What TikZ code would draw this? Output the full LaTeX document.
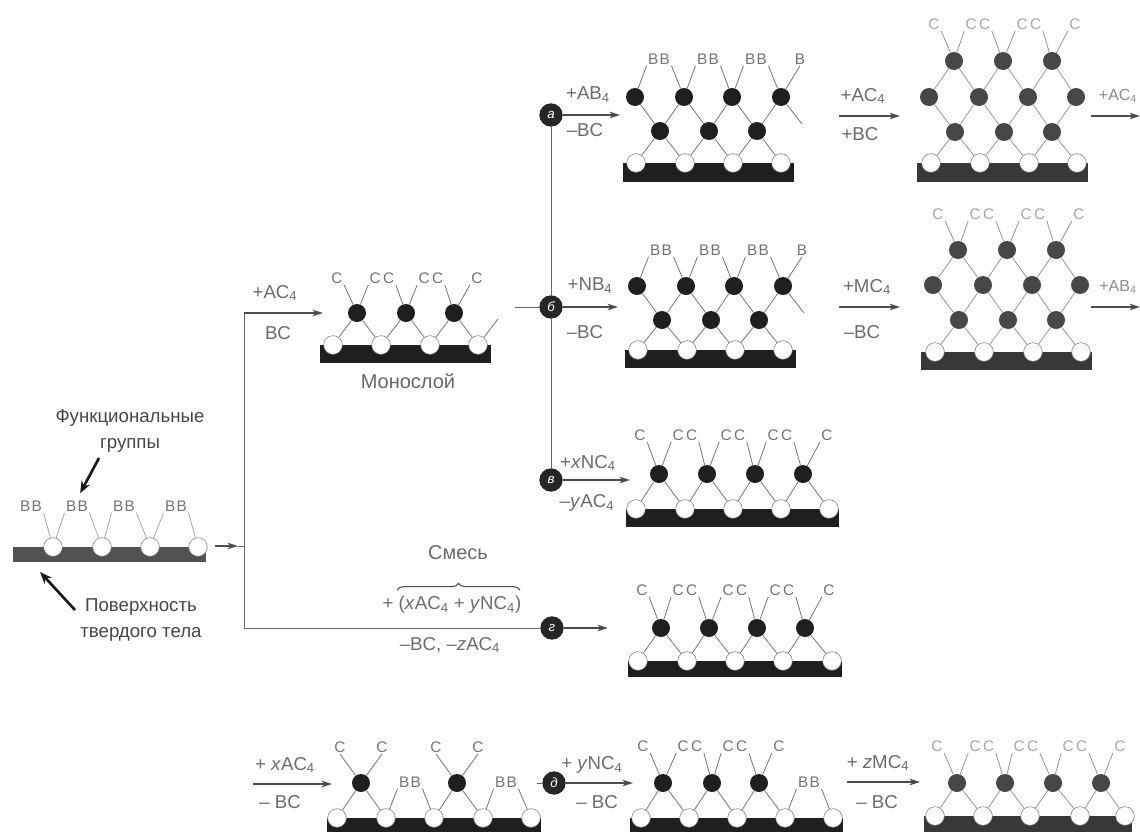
\documentclass[tikz,border=0pt]{standalone}
\usepackage{fontspec}
\setmainfont{Liberation Sans}
\usetikzlibrary{arrows.meta,decorations.pathreplacing}
\newcommand{\cc}{C\kern1.8pt C}
\newcommand{\bb}{B\kern1pt B}
\newcommand{\substrate}[6]{%
    \fill[barfill] (#2,#4) rectangle (#3,#5);
    \foreach \x [count=\i] in {#6} \node[hole] (#1w\i) at (\x,#4) {};
}
\newcommand{\atoms}[4]{\foreach \x [count=\i] in {#4} \node[#1] (#2\i) at (\x,#3) {};}
\newcommand{\caps}[3]{\foreach \x/\lab [count=\i] in {#3} \node[toplabel] (#1\i) at (\x,#2) {\lab};}
\newcommand{\zigzag}[3]{%
    \foreach \i in {1,...,#3} {
        \pgfmathtruncatemacro\j{\i+1}
        \draw[bond] (#1\i) -- (#2\i) (#1\i) -- (#2\j);
    }
}
\newcommand{\capbonds}[3]{%
    \foreach \i in {1,...,#3} {
        \pgfmathtruncatemacro\j{\i+1}
        \draw[bond] (#1\i) -- (#2\i.south east) (#1\i) -- (#2\j.south west);
    }
}
\newcommand{\hangbonds}[3]{%
    \foreach \i in {1,...,#3} {
        \pgfmathtruncatemacro\j{\i+1}
        \draw[bond] (#2\i.south west) -- (#1\i) (#2\i.south east) -- (#1\j);
    }
}
\begin{document}
\begin{tikzpicture}[
        x=0.75pt, y=-0.75pt,
        barfill/.style={fill=black!88},
        hole/.style={circle, draw=black!55, line width=0.4pt, fill=white, minimum size=14pt, inner sep=0pt},
        atom/.style={circle, fill=black!88, minimum size=13.5pt, inner sep=0pt},
        paleatom/.style={circle, fill=black!72, minimum size=13.5pt, inner sep=0pt},
        toplabel/.style={font=\fontsize{11.5}{12}\selectfont, text=black!55, inner sep=1pt},
        bond/.style={black!55, line width=0.6pt},
        faintbond/.style={black!35, line width=0.6pt},
        palepanel/.style={toplabel/.append style={text=black!35}, bond/.append style={black!42}, barfill/.append style={fill=black!78}},
        stage/.style={circle, fill=black!85, text=white, font=\fontsize{10}{10}\selectfont\itshape, minimum size=17.5pt, inner sep=0pt},
        chem/.style={font=\fontsize{14}{15}\selectfont, text=black!58, inner sep=0pt},
        note/.style={font=\fontsize{14}{20}\selectfont, text=black!72, align=center, inner sep=0pt},
        line/.style={black!60, line width=0.7pt},
        flow/.style={black!70, line width=0.8pt, -{Stealth[length=8pt,width=5pt]}},
        pointer/.style={black!90, line width=2pt, -{Stealth[length=9pt,width=7pt]}}
    ]
    \useasboundingbox (0,0) rectangle (1140,832);

    \node[stage] (sa) at (551,115) {а};
    \node[stage] (sb) at (551,307) {б};
    \node[stage] (sv) at (551,480) {в};
    \node[stage] (sg) at (552,628) {г};
    \node[stage] (sd) at (554,783) {д};

    \begin{scope}[barfill/.append style={fill=black!68}]
    \substrate{l}{13}{206}{547}{562}{53,102,150,198}
    \end{scope}
    \caps{ll}{506}{31/\bb,77/\bb,124/\bb,176/\bb}
    \foreach \i/\j in {1/2,2/3,3/4} {
        \draw[faintbond] (lw\i) -- (ll\j.south west);
    }
    \foreach \i in {1,2,3,4} {
        \draw[faintbond] (ll\i.south east) -- (lw\i);
    }
    \node[note] (func) at (130,431) {Функциональные\\группы};
    \node[note] (solid) at (141,620) {Поверхность\\твердого тела};
    \coordinate (fn0) at (99,458);
    \coordinate (sf0) at (75,610);
    \coordinate (sf1) at (40,572);
    \draw[pointer, shorten >=5pt] (fn0) -- (ll2.north);
    \draw[pointer] (sf0) -- (sf1);

    \coordinate (st0) at (215,546);
    \coordinate (st1) at (238,546);
    \coordinate (jn) at (244,546);
    \coordinate (up) at (244,313);
    \coordinate (lo) at (244,628);
    \coordinate (mono0) at (323,313);
    \draw[flow] (st0) -- (st1);
    \draw[line] (st1) -- (jn);
    \draw[line] (lo) -- (up);
    \draw[flow] (up) -- (mono0);
    \draw[line] (lo) -- (sg);
    \node[chem] (t1) at (275,293) {+AC\textsubscript{4}};
    \node[chem] (t2) at (278,333) {BC};

    \substrate{m}{320}{491}{345}{363}{333,381,430,478}
    \atoms{atom}{md}{313}{357,406,454}
    \caps{ml}{278}{337/C,382/\cc,431/\cc,477/C}
    \zigzag{md}{mw}{3}
    \capbonds{md}{ml}{3}
    \coordinate (mfree) at (498,319);
    \draw[bond] (mw4) -- (mfree);
    \node[font=\fontsize{15}{15}\selectfont, text=black!60] (monolayer) at (408,381) {Монослой};

    \coordinate (mb0) at (515,307);
    \draw[line] (mb0) -- (sb);
    \draw[line] (sa) -- (sb) -- (sv);

    \coordinate (ae) at (620,115);
    \draw[flow] (sa) -- (ae);
    \node[chem] (t3) at (588,95) {+AB\textsubscript{4}};
    \node[chem] (t4) at (585,130) {–BC};
    \substrate{a}{623}{794}{163}{182}{636,685,733,781}
    \atoms{atom}{al}{131}{660,709,757}
    \atoms{atom}{au}{97}{635,684,732,781}
    \caps{at}{59}{659/\bb,708/\bb,756/\bb,800/B}
    \zigzag{al}{aw}{3}
    \zigzag{al}{au}{3}
    \hangbonds{au}{at}{3}
    \coordinate (afree) at (802,124);
    \draw[bond] (au4) -- (at4.south) (au4) -- (afree);

    \coordinate (a2s) at (839,116);
    \coordinate (a2e) at (900,116);
    \draw[flow] (a2s) -- (a2e);
    \node[chem] (t5) at (863,96) {+AC\textsubscript{4}};
    \node[chem] (t6) at (860,134) {+BC};
    \begin{scope}[palepanel]
    \substrate{c}{917}{1088}{163}{182}{931,980,1029,1077}
    \atoms{paleatom}{cl}{132}{955,1004,1052}
    \atoms{paleatom}{cm}{97}{929,979,1028,1076}
    \atoms{paleatom}{cu}{61}{954,1003,1052}
    \caps{ct}{24}{934/C,978/\cc,1029/\cc,1075/C}
    \zigzag{cl}{cw}{3}
    \zigzag{cl}{cm}{3}
    \zigzag{cu}{cm}{3}
    \capbonds{cu}{ct}{3}
    \end{scope}
    \coordinate (c2s) at (1091,116);
    \coordinate (c2e) at (1140,116);
    \draw[flow] (c2s) -- (c2e);
    \node[chem, text=black!45, font=\fontsize{12}{13}\selectfont] (t7) at (1118,96) {+AC\textsubscript{4}};

    \coordinate (be) at (618,307);
    \draw[flow] (sb) -- (be);
    \node[chem] (t8) at (590,286) {+NB\textsubscript{4}};
    \node[chem] (t9) at (585,332) {–BC};
    \substrate{b}{625}{796}{350}{368}{638,687,735,783}
    \atoms{atom}{bl}{320}{662,711,759}
    \atoms{atom}{bu}{286}{637,686,734,783}
    \caps{bt}{250}{661/\bb,710/\bb,758/\bb,802/B}
    \zigzag{bl}{bw}{3}
    \zigzag{bl}{bu}{3}
    \hangbonds{bu}{bt}{3}
    \coordinate (bfree) at (804,313);
    \draw[bond] (bu4) -- (bt4.south) (bu4) -- (bfree);

    \coordinate (b2s) at (839,307);
    \coordinate (b2e) at (900,307);
    \draw[flow] (b2s) -- (b2e);
    \node[chem] (t10) at (867,287) {+MC\textsubscript{4}};
    \node[chem] (t11) at (862,332) {–BC};
    \begin{scope}[palepanel]
    \substrate{e}{921}{1092}{352}{370}{935,984,1033,1081}
    \atoms{paleatom}{el}{320}{959,1008,1056}
    \atoms{paleatom}{em}{285}{933,983,1032,1080}
    \atoms{paleatom}{eu}{250}{958,1007,1056}
    \caps{et}{214}{938/C,982/\cc,1033/\cc,1079/C}
    \zigzag{el}{ew}{3}
    \zigzag{el}{em}{3}
    \zigzag{eu}{em}{3}
    \capbonds{eu}{et}{3}
    \end{scope}
    \coordinate (e2s) at (1091,307);
    \coordinate (e2e) at (1140,307);
    \draw[flow] (e2s) -- (e2e);
    \node[chem, text=black!45, font=\fontsize{12}{13}\selectfont] (t12) at (1118,287) {+AB\textsubscript{4}};

    \coordinate (ve) at (630,480);
    \draw[flow] (sv) -- (ve);
    \node[chem] (t13) at (588,463) {+\textit{x}NC\textsubscript{4}};
    \node[chem] (t14) at (587,503) {–\textit{y}AC\textsubscript{4}};
    \substrate{v}{626}{839}{509}{527}{636,685,733,781,829}
    \atoms{atom}{vd}{474}{659,707,755,803}
    \caps{vt}{435}{640/C,685/\cc,733/\cc,780/\cc,827/C}
    \zigzag{vd}{vw}{4}
    \capbonds{vd}{vt}{4}

    \draw[decorate, decoration={brace, amplitude=5pt}, black!70, line width=0.8pt] (397,590) -- (520,590);
    \node[chem, font=\fontsize{15}{15}\selectfont] (mix) at (458,553) {Смесь};
    \node[chem] (t15) at (452,605) {+ (\textit{x}AC\textsubscript{4} + \textit{y}NC\textsubscript{4})};
    \node[chem] (t16) at (450,645) {–BC, –\textit{z}AC\textsubscript{4}};
    \coordinate (ge) at (608,628);
    \draw[flow] (sg) -- (ge);
    \substrate{g}{628}{842}{661}{677}{638,687,735,783,832}
    \atoms{atom}{gd}{628}{661,709,757,805}
    \caps{gt}{590}{642/C,685/\cc,735/\cc,782/\cc,829/C}
    \zigzag{gd}{gw}{4}
    \capbonds{gd}{gt}{4}

    \coordinate (p1s) at (253,784);
    \coordinate (p1e) at (332,784);
    \draw[flow] (p1s) -- (p1e);
    \node[chem] (t17) at (285,765) {+ \textit{x}AC\textsubscript{4}};
    \node[chem] (t18) at (280,802) {– BC};
    \substrate{p}{327}{541}{818}{832}{337,386,434,483,531}
    \atoms{atom}{pd}{783}{361,457}
    \caps{pt}{747}{340/C,382/C,436/C,478/C}
    \node[toplabel] (pb1) at (410,782) {\bb};
    \node[toplabel] (pb2) at (506,782) {\bb};
    \draw[bond] (pd1) -- (pt1.south) (pd1) -- (pt2.south) (pd2) -- (pt3.south) (pd2) -- (pt4.south);
    \draw[bond] (pd1) -- (pw1) (pd1) -- (pw2) (pd2) -- (pw3) (pd2) -- (pw4);
    \draw[bond] (pb1.south west) -- (pw2) (pb1.south east) -- (pw3);
    \draw[bond] (pb2.south west) -- (pw4) (pb2.south east) -- (pw5);

    \coordinate (d0) at (537,783);
    \coordinate (de) at (633,783);
    \draw[line] (d0) -- (sd);
    \draw[flow] (sd) -- (de);
    \node[chem] (t19) at (592,765) {+ \textit{y}NC\textsubscript{4}};
    \node[chem] (t20) at (597,802) {– BC};
    \substrate{q}{630}{843}{818}{832}{641,689,737,785,833}
    \atoms{atom}{qd}{783}{663,712,759}
    \caps{qt}{746}{643/C,690/\cc,735/\cc,779/C}
    \node[toplabel] (qb) at (809,782) {\bb};
    \zigzag{qd}{qw}{3}
    \capbonds{qd}{qt}{3}
    \draw[bond] (qb.south west) -- (qw4) (qb.south east) -- (qw5);

    \coordinate (q2s) at (847,782);
    \coordinate (q2e) at (920,782);
    \draw[flow] (q2s) -- (q2e);
    \node[chem] (t21) at (878,763) {+ \textit{z}MC\textsubscript{4}};
    \node[chem] (t22) at (877,802) {– BC};
    \begin{scope}[palepanel]
    \substrate{f}{924}{1132}{816}{832}{935,983,1030,1080,1125}
    \atoms{paleatom}{fd}{783}{957,1005,1053,1101}
    \caps{ft}{746}{937/C,982/\cc,1026/\cc,1075/\cc,1120/C}
    \zigzag{fd}{fw}{4}
    \capbonds{fd}{ft}{4}
    \end{scope}
\end{tikzpicture}
\end{document}
